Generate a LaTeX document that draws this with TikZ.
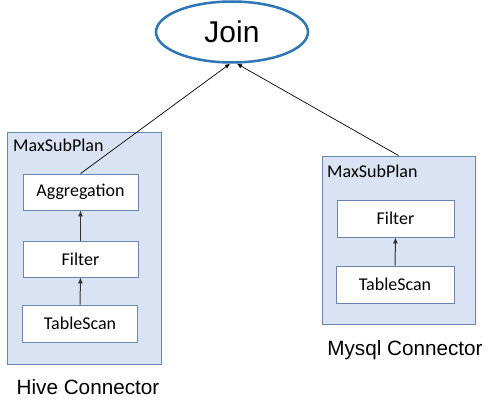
\documentclass[tikz,border=0pt]{standalone}
\usepackage{fontspec}
\setmainfont{Carlito}
\newfontfamily\arialf{Liberation Sans}
\usetikzlibrary{shapes.geometric,arrows.meta}
\definecolor{boxfill}{HTML}{DAE3F3}
\definecolor{boxline}{HTML}{6A86B0}
\definecolor{joinline}{HTML}{2E75B6}
\tikzset{
  outerbox/.style={draw=boxline, fill=boxfill, line width=0.9pt, rectangle, inner sep=0pt},
  opbox/.style={draw=boxline, fill=white, line width=0.8pt, rectangle, inner sep=0pt, minimum width=115pt, minimum height=36pt, font=\fontsize{18}{20}\selectfont},
  sublabel/.style={anchor=base west, inner sep=0pt, font=\fontsize{18}{20}\selectfont},
  connlabel/.style={anchor=base, inner sep=0pt, font=\arialf\fontsize{20.7}{24}\selectfont},
  conn/.style={-{Latex[length=5pt,width=4.5pt]}, line width=0.7pt, black},
  flow/.style={-{Latex[length=6pt,width=5pt]}, line width=1pt, black!80}
}
\begin{document}
\begin{tikzpicture}[x=1pt,y=-1pt]
\useasboundingbox (0,0) rectangle (504,409);
\node[ellipse, draw=joinline, line width=2.5pt, fill=white, minimum width=152pt, minimum height=61pt, inner sep=0pt, font=\arialf\fontsize{30}{34}\selectfont] (join) at (232,32) {Join};

\node[outerbox, minimum width=154pt, minimum height=232pt] (hivebox) at (84,248) {};
\node[sublabel] (hivesub) at (13,152) {MaxSubPlan};
\node[opbox] (agg) at (80.5,192) {Aggregation};
\node[opbox] (hfilter) at (80.5,259) {Filter};
\node[opbox, minimum height=37pt] (hscan) at (80,323.5) {TableScan};
\node[connlabel] (hivelabel) at (88,394) {Hive Connector};

\node[outerbox, minimum width=153pt, minimum height=168pt] (mysqlbox) at (398.5,240) {};
\node[sublabel] (mysqlsub) at (327,178) {MaxSubPlan};
\node[opbox, minimum width=117pt, minimum height=37pt] (mfilter) at (395.5,218.5) {Filter};
\node[opbox, minimum width=118pt, minimum height=37pt] (mscan) at (395,284.5) {TableScan};
\node[connlabel] (mysqllabel) at (405,355) {Mysql Connector};

\draw[flow] (hfilter.north) -- (agg.south);
\draw[flow] (hscan.north) -- (hfilter.south);
\draw[flow] (mscan.north) -- (mfilter.south);
\draw[conn] (agg.north) -- ([xshift=-2pt]join.south);
\draw[conn] (mysqlbox.north) -- ([xshift=5pt]join.south);
\end{tikzpicture}
\end{document}
